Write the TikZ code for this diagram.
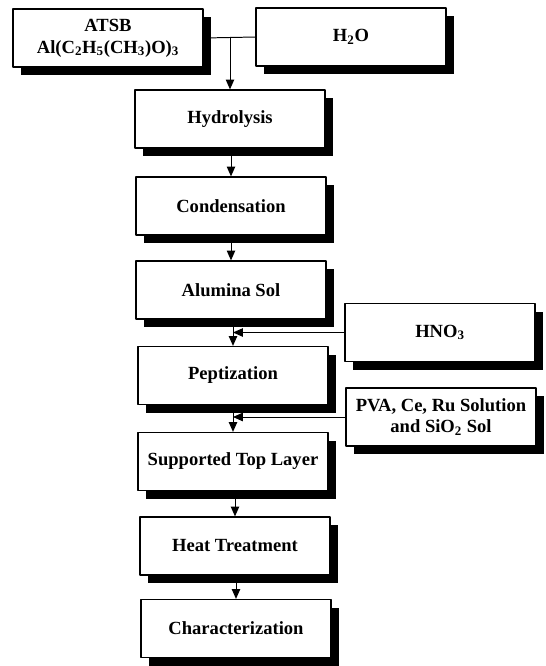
\documentclass[tikz,border=0pt]{standalone}
\usepackage{fontspec}
\setmainfont{Liberation Serif}
\usetikzlibrary{arrows.meta, shadows, calc}

\begin{document}
\begin{tikzpicture}[x=0.025cm, y=-0.025cm, line cap=round, line join=round, >={Triangle[width=6pt,length=7pt]},
    stage/.style={draw, fill=white, line width=0.9pt, minimum width=4.75cm, minimum height=1.45cm, align=center,
        font=\fontsize{13.2}{15.5}\selectfont\bfseries,
        drop shadow={shadow xshift=0.2cm, shadow yshift=-0.2cm, fill=black, opacity=1}},
    link/.style={line width=0.7pt}]
    \useasboundingbox (0,0) rectangle (546,666);
    
    % starting materials
    \node[stage] (atsb) at (108,38) {ATSB\\Al(C\textsubscript{2}H\textsubscript{5}(CH\textsubscript{3})O)\textsubscript{3}};
    \node[stage] (water) at (351,37) {H\textsubscript{2}O};
    
    % main steps
    \node[stage] (hydro) at (230,119) {Hydrolysis};
    \node[stage] (cond) at (231,206) {Condensation};
    \node[stage] (sol) at (231,290) {Alumina Sol};
    \node[stage] (pept) at (233,375.5) {Peptization};
    \node[stage] (layer) at (233,461.5) {Supported Top Layer};
    \node[stage] (heat) at (235,546) {Heat Treatment};
    \node[stage] (charac) at (236,628.5) {Characterization};
    
    % additives
    \node[stage] (acid) at (440,332.5) {HNO\textsubscript{3}};
    \node[stage] (pva) at (441,417) {PVA, Ce, Ru Solution\\and SiO\textsubscript{2} Sol};
    
    % connectors
    \coordinate (join) at (hydro.north |- atsb.east);
    \draw[link] (atsb.east) -- (water.west);
    \draw[link,->] (join) -- (hydro.north);
    \draw[link,->] (cond.north |- hydro.south) -- (cond.north);
    \draw[link,->] (sol.north |- cond.south) -- (sol.north);
    \draw[link,->] (pept.north |- sol.south) -- (pept.north);
    \draw[link,->] (layer.north |- pept.south) -- (layer.north);
    \draw[link,->] (heat.north |- layer.south) -- (heat.north);
    \draw[link,->] (charac.north |- heat.south) -- (charac.north);
    \draw[link,->] (acid.west) -- (acid.west -| pept.north);
    \draw[link,->] (pva.west) -- (pva.west -| layer.north);
\end{tikzpicture}
\end{document}
